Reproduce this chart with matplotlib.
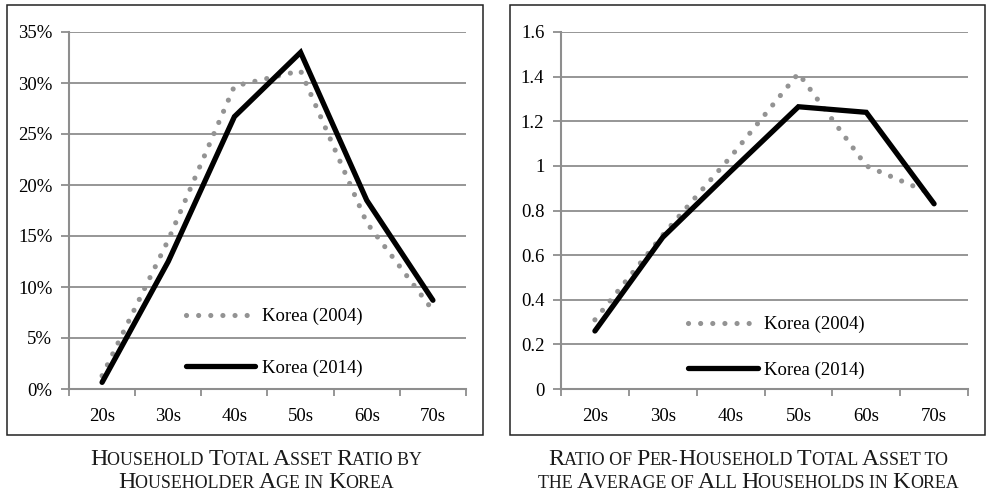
import matplotlib
matplotlib.use("Agg")
import matplotlib.pyplot as plt
from matplotlib.patches import Rectangle
from matplotlib.ticker import FuncFormatter, MultipleLocator
import numpy as np

# ---- data ----
ages = ["20s", "30s", "40s", "50s", "60s", "70s"]
ratio_2004 = [1.3, 14.6, 29.7, 31.2, 16.3, 7.7]      # percent
ratio_2014 = [0.65, 12.5, 26.7, 33.0, 18.5, 8.7]     # percent
rel_2004 = [0.31, 0.69, 1.04, 1.415, 1.0, 0.87]
rel_2014 = [0.26, 0.68, 0.975, 1.265, 1.24, 0.83]
label_2004 = "Korea (2004)"
label_2014 = "Korea (2014)"
caption_left = ["Household Total Asset Ratio by", "Householder Age in Korea"]
caption_right = ["Ratio of Per-Household Total Asset to", "the Average of All Households in Korea"]

SERIF = "Liberation Serif"
plt.rcParams["font.family"] = [SERIF, "DejaVu Serif"]

W, H = 986, 499
fig = plt.figure(figsize=(W / 100, H / 100), dpi=100)
fig.patch.set_facecolor("white")

GRID = "#8e8e8e"
DOT = "#939393"


def px(x0, y0, x1, y1):
    return [x0 / W, 1 - y1 / H, (x1 - x0) / W, (y1 - y0) / H]


def style_axes(ax, ymax, ystep, fmt, legend_xy, spacing):
    x = np.arange(len(ages))
    ax.set_xlim(-0.5, len(ages) - 0.5)
    ax.set_ylim(0, ymax)
    ax.yaxis.set_major_locator(MultipleLocator(ystep))
    ax.yaxis.set_major_formatter(FuncFormatter(fmt))
    ax.set_xticks(x)
    ax.set_xticklabels(ages)
    ax.set_xticks(np.arange(-0.5, len(ages)), minor=True)
    ax.tick_params(axis="x", which="major", length=0, pad=14, labelsize=13.5)
    ax.tick_params(axis="x", which="minor", length=5, width=1.3, color=GRID, direction="out")
    ax.tick_params(axis="y", length=6, width=1.3, color=GRID, pad=6, labelsize=13.5)
    for s in ["top", "right"]:
        ax.spines[s].set_visible(False)
    for s in ["left", "bottom"]:
        ax.spines[s].set_color(GRID)
        ax.spines[s].set_linewidth(1.5)
    ax.yaxis.grid(True, color=GRID, linewidth=1.3)
    ax.set_axisbelow(True)
    leg = ax.legend(loc="upper left", bbox_to_anchor=legend_xy, frameon=False,
                    fontsize=13.5, handlelength=3.7, handletextpad=0.35,
                    labelspacing=spacing, borderaxespad=0, borderpad=0)
    return leg


def plot_series(ax, y04, y14):
    x = np.arange(len(ages))
    ax.plot(x, y04, color=DOT, linewidth=3.7, linestyle=(0, (0.01, 2.35)),
            dash_capstyle="round", label=label_2004, zorder=3)
    ax.plot(x, y14, color="black", linewidth=3.8, solid_capstyle="round",
            solid_joinstyle="miter", label=label_2014, zorder=4)


# left panel
ax1 = fig.add_axes(px(69, 32, 466, 389))
plot_series(ax1, ratio_2004, ratio_2014)
style_axes(ax1, 35, 5, lambda v, p: f"{v:.0f}%", (0.295, 0.227), 1.82)

# right panel
ax2 = fig.add_axes(px(561, 32, 968, 389))
plot_series(ax2, rel_2004, rel_2014)
style_axes(ax2, 1.6, 0.2, lambda v, p: f"{v:.1f}".rstrip("0").rstrip("."),
           (0.313, 0.204), 1.5)

# panel boxes
for (x0, y0, x1, y1) in [(7, 5, 483, 435), (510, 5, 985, 435)]:
    fig.add_artist(Rectangle((x0 / W, 1 - y1 / H), (x1 - x0) / W, (y1 - y0) / H,
                             transform=fig.transFigure, fill=False,
                             edgecolor="#222222", linewidth=1.1))

# small-caps captions
renderer = fig.canvas.get_renderer()


def text_width(s, size):
    t = fig.text(0, 0, "x" + s + "x", fontsize=size, family=SERIF)
    w1 = t.get_window_extent(renderer).width
    t.remove()
    t = fig.text(0, 0, "xx", fontsize=size, family=SERIF)
    w2 = t.get_window_extent(renderer).width
    t.remove()
    return w1 - w2


def smallcaps(xc, ybase, s, big=17.2, small=12.9):
    segs = []
    for ch in s:
        size = big if ch.isupper() else small
        c = ch.upper()
        if segs and segs[-1][1] == size:
            segs[-1][0] += c
        else:
            segs.append([c, size])
    widths = [text_width(t, sz) for t, sz in segs]
    total = sum(widths)
    x = xc - total / 2
    for (t, sz), w in zip(segs, widths):
        fig.text(x / W, 1 - ybase / H, t, fontsize=sz, family=SERIF,
                 va="baseline", ha="left", color="#1a1a1a")
        x += w


for i, line in enumerate(caption_left):
    smallcaps(256, 465 + i * 22.5, line)
for i, line in enumerate(caption_right):
    smallcaps(748, 465 + i * 22.5, line)

fig.savefig("out.png", dpi=100)
